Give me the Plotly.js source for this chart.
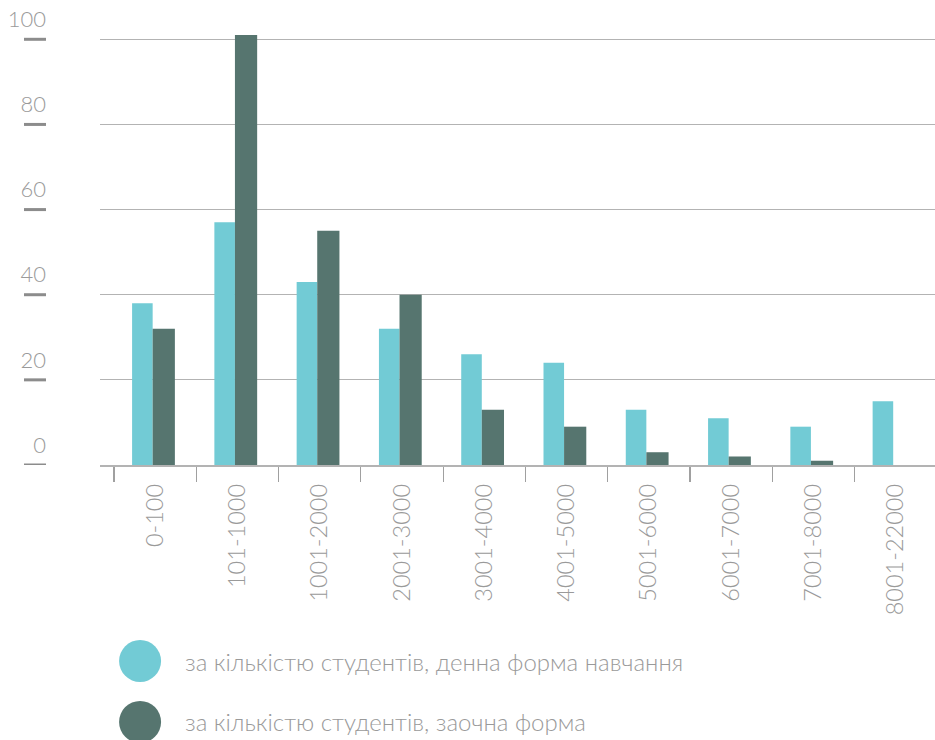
<!DOCTYPE html>
<html>
<head>
<meta charset="utf-8">
<script src="https://cdn.plot.ly/plotly-3.0.1.min.js"></script>
<style>
html,body{margin:0;padding:0;background:#fff;}
#chart{width:935px;height:740px;}
</style>
</head>
<body>
<div id="chart"></div>
<script>
var categories = ['0-100','101-1000','1001-2000','2001-3000','3001-4000','4001-5000','5001-6000','6001-7000','7001-8000','8001-22000'];
var fullTimeValues = [38, 57, 43, 32, 26, 24, 13, 11, 9, 15];
var partTimeValues = [32, 101, 55, 40, 13, 9, 3, 2, 1, 0];
var seriesNames = ['за кількістю студентів, денна форма навчання', 'за кількістю студентів, заочна форма'];
var seriesColors = ['#72cbd5', '#56756f'];
var yTickValues = [0, 20, 40, 60, 80, 100];

var FONT = 'Lato, "Open Sans", sans-serif';
var TEXT = '#9a9a9a';

var traces = [
  {type:'bar', x:categories, y:fullTimeValues, name:seriesNames[0],
   marker:{color:seriesColors[0]}, offset:-0.28, width:0.25, hoverinfo:'x+y'},
  {type:'bar', x:categories, y:partTimeValues, name:seriesNames[1],
   marker:{color:seriesColors[1]}, offset:-0.03, width:0.27, hoverinfo:'x+y'}
];

var shapes = [];
var annotations = [];
// short dashes under y tick labels
yTickValues.forEach(function(v){
  shapes.push({type:'line', xref:'paper', yref:'y', x0:-0.091, x1:-0.0647, y0:v, y1:v,
    line:{color:'#8c8c8c', width:3}});
});
// custom legend with big circles
var legendY = [-0.4455, -0.584];
seriesNames.forEach(function(n, i){
  shapes.push({type:'circle', xref:'paper', yref:'paper', xsizemode:'pixel', ysizemode:'pixel',
    xanchor:0.048, yanchor:legendY[i], x0:-21, x1:21, y0:-21, y1:21,
    fillcolor:seriesColors[i], line:{width:0}});
  annotations.push({xref:'paper', yref:'paper', x:0.0995, y:legendY[i], xanchor:'left', yanchor:'middle',
    text:n, showarrow:false, font:{family:FONT, size:24, color:TEXT, weight:300}});
});

var layout = {
  width:935, height:740,
  margin:{l:100, r:0, t:25, b:275},
  paper_bgcolor:'#fff', plot_bgcolor:'#fff',
  barmode:'overlay',
  showlegend:false,
  xaxis:{type:'category', range:[-0.670, 9.478], tickson:'boundaries',
    ticks:'outside', ticklen:15, tickcolor:'#a0a0a0', tickwidth:1.2,
    showline:true, linecolor:'#b3b3b3', linewidth:1.5, showgrid:false,
    tickangle:-90, tickfont:{family:FONT, size:23.5, color:TEXT, weight:300},
    ticklabelstandoff:8, fixedrange:true},
  yaxis:{range:[0, 103.36], tickvals:yTickValues, ticktext:yTickValues.map(String),
    showgrid:true, gridcolor:'#b3b3b3', gridwidth:1.2, zeroline:false, showline:false,
    ticks:'', tickfont:{family:FONT, size:22, color:TEXT, weight:300},
    ticklabelstandoff:53, ticklabelshift:-20, fixedrange:true},
  shapes:shapes,
  annotations:annotations
};

Plotly.newPlot('chart', traces, layout, {displayModeBar:false, staticPlot:true});
</script>
</body>
</html>
